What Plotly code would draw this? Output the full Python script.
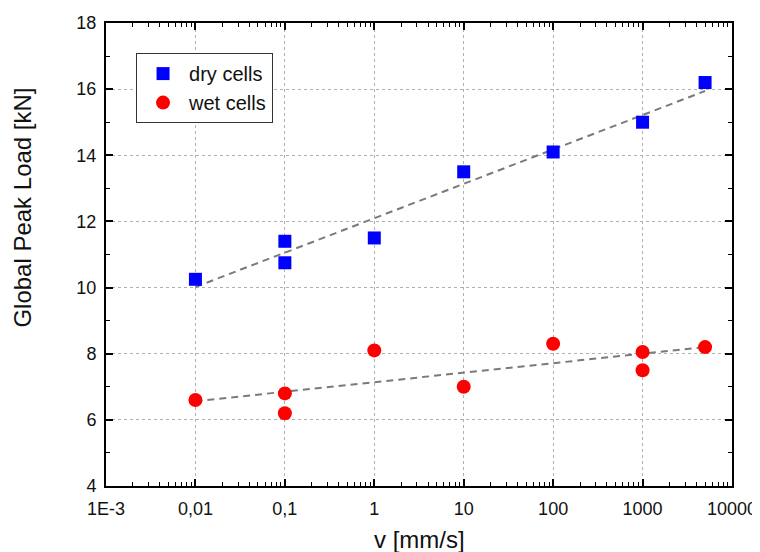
import numpy as np
import plotly.graph_objects as go

# ---- data ----
dry_v = [0.01, 0.1, 0.1, 1, 10, 100, 1000, 5000]
dry_load = [10.25, 11.4, 10.75, 11.5, 13.5, 14.1, 15.0, 16.2]
wet_v = [0.01, 0.1, 0.1, 1, 10, 100, 1000, 1000, 5000]
wet_load = [6.6, 6.8, 6.2, 8.1, 7.0, 8.3, 8.05, 7.5, 8.2]

x_tickvals = [0.001, 0.01, 0.1, 1, 10, 100, 1000, 10000]
x_ticktext = ["1E-3", "0,01", "0,1", "1", "10", "100", "1000", "10000"]
y_tickvals = [4, 6, 8, 10, 12, 14, 16, 18]

FONT = "Arial, Liberation Sans, sans-serif"


def log_fit(v, y):
    lv = np.log10(v)
    k, b = np.polyfit(lv, y, 1)
    xs = np.array([min(v), max(v)])
    return xs, k * np.log10(xs) + b


fig = go.Figure()

for v, y in [(dry_v, dry_load), (wet_v, wet_load)]:
    fx, fy = log_fit(v, y)
    fig.add_trace(go.Scatter(x=fx, y=fy, mode="lines", showlegend=False,
                             line=dict(color="#7a7a7a", width=2, dash="7px,5px"),
                             hoverinfo="skip"))

fig.add_trace(go.Scatter(x=dry_v, y=dry_load, mode="markers", name="dry cells",
                         marker=dict(symbol="square", size=13, color="#0000ff",
                                     line=dict(width=0))))
fig.add_trace(go.Scatter(x=wet_v, y=wet_load, mode="markers", name="wet cells",
                         marker=dict(symbol="circle", size=14, color="#ff0000",
                                     line=dict(width=0))))

axis_common = dict(
    showline=True, linecolor="black", linewidth=2, mirror="allticks",
    ticks="inside", ticklen=7, tickwidth=1.5, tickcolor="black",
    showgrid=True, gridcolor="#b0b0b0", gridwidth=1, griddash="dot",
    zeroline=False,
    tickfont=dict(family=FONT, size=18, color="#111111"),
)

fig.update_xaxes(type="log", range=[-3, 4], tickmode="array",
                 tickvals=x_tickvals, ticktext=x_ticktext,
                 ticklabelstandoff=5,
                 minor=dict(ticks="inside", ticklen=4, tickwidth=1, tickcolor="black",
                            dtick="D1", showgrid=False),
                 **axis_common)
fig.update_yaxes(range=[4, 18], tickmode="array", tickvals=y_tickvals,
                 ticklabelstandoff=4,
                 minor=dict(ticks="inside", ticklen=4, tickwidth=1, tickcolor="black",
                            dtick=1, showgrid=False),
                 **axis_common)

fig.add_annotation(text="Global Peak Load [kN]", textangle=-90, xref="paper", yref="paper",
                   x=-0.134, y=0.6015, xanchor="center", yanchor="middle", showarrow=False,
                   font=dict(family=FONT, size=24, color="#111111"))
fig.add_annotation(text="v [mm/s]", xref="paper", yref="paper",
                   x=0.5, y=-0.1145, xanchor="center", yanchor="middle", showarrow=False,
                   font=dict(family=FONT, size=24, color="#111111"))

# page body has an 8px default margin, so the figure is 8px smaller and margins shifted
fig.update_layout(
    width=752, height=544,
    margin=dict(l=98, r=28, t=15, b=66, autoexpand=False),
    paper_bgcolor="white", plot_bgcolor="white",
    legend=dict(x=0.048, y=0.935, xanchor="left", yanchor="top",
                bgcolor="white", bordercolor="#333333", borderwidth=1,
                font=dict(family=FONT, size=20, color="#111111"),
                tracegroupgap=0, itemwidth=42),
)

fig.write_html("out.html")
